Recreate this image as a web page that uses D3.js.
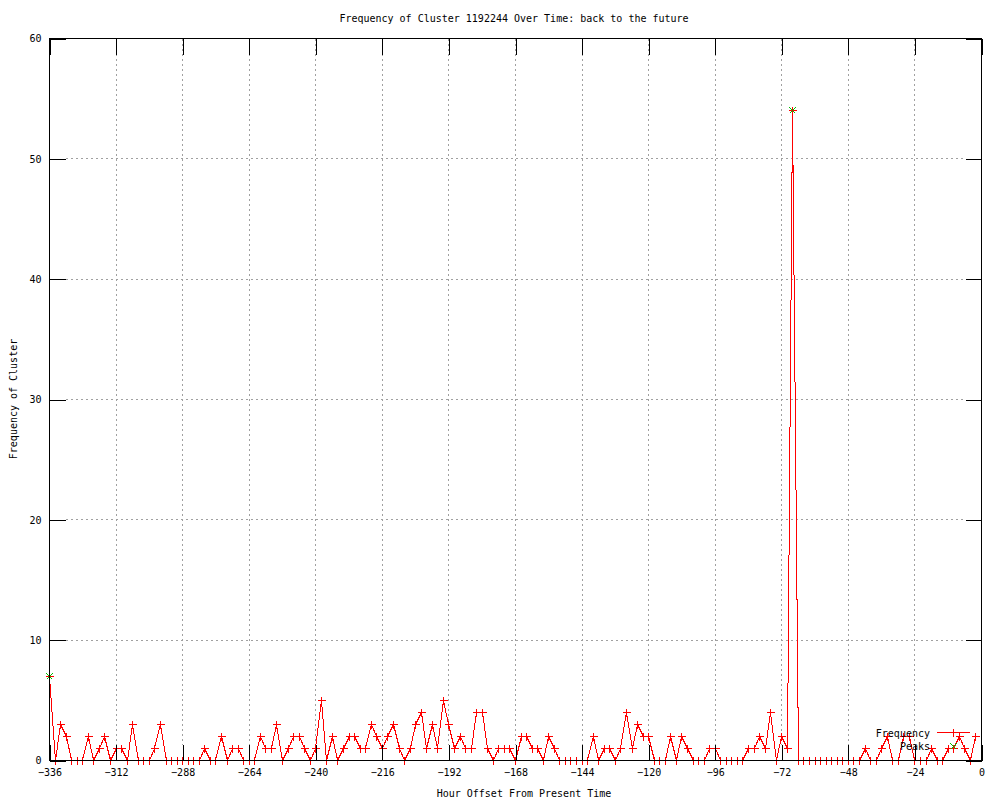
<!DOCTYPE html>
<meta charset="utf-8">
<title>Frequency of Cluster 1192244 Over Time</title>
<style type="text/css">
	body { margin: 0; background: #fff; }
	svg text { font-family: "DejaVu Sans Mono", monospace; font-size: 10px; fill: #000; }
</style>
<body>
<div id="chart"></div>
</body>
<script src="https://d3js.org/d3.v7.min.js"></script>
<script>

// hour offsets of each sample (every 2 hours)
var hours = [-336,-334,-332,-330,-328,-326,-324,-322,-320,-318,-316,-314,-312,-310,-308,-306,-304,-302,-300,-298,
	-296,-294,-292,-290,-288,-286,-284,-282,-280,-278,-276,-274,-272,-270,-268,-266,-264,-262,-260,-258,
	-256,-254,-252,-250,-248,-246,-244,-242,-240,-238,-236,-234,-232,-230,-228,-226,-224,-222,-220,-218,
	-216,-214,-212,-210,-208,-206,-204,-202,-200,-198,-196,-194,-192,-190,-188,-186,-184,-182,-180,-178,
	-176,-174,-172,-170,-168,-166,-164,-162,-160,-158,-156,-154,-152,-150,-148,-146,-144,-142,-140,-138,
	-136,-134,-132,-130,-128,-126,-124,-122,-120,-118,-116,-114,-112,-110,-108,-106,-104,-102,-100,-98,
	-96,-94,-92,-90,-88,-86,-84,-82,-80,-78,-76,-74,-72,-70,-68,-66,-64,-62,-60,-58,
	-56,-54,-52,-50,-48,-46,-44,-42,-40,-38,-36,-34,-32,-30,-28,-26,-24,-22,-20,-18,
	-16,-14,-12,-10,-8,-6,-4,-2];

// cluster frequency at each hour
var frequency = [7,0,3,2,0,0,0,2,0,1,2,0,1,1,0,3,0,0,0,1,
	3,0,0,0,0,0,0,0,1,0,0,2,0,1,1,0,0,0,2,1,
	1,3,0,1,2,2,1,0,1,5,0,2,0,1,2,2,1,1,3,2,
	1,2,3,1,0,1,3,4,1,3,1,5,3,1,2,1,1,4,4,1,
	0,1,1,1,0,2,2,1,1,0,2,1,0,0,0,0,0,0,2,0,
	1,1,0,1,4,1,3,2,2,0,0,0,2,0,2,1,0,0,0,1,
	1,0,0,0,0,0,1,1,2,1,4,0,2,1,54,0,0,0,0,0,
	0,0,0,0,0,0,0,1,0,0,1,2,0,0,2,2,0,0,0,1,
	0,0,1,1,2,1,0,2];

// detected peaks
var peakHours = [-336, -68];
var peakValues = [7, 54];

var xTicks = [-336,-312,-288,-264,-240,-216,-192,-168,-144,-120,-96,-72,-48,-24,0];
var yTicks = [0,10,20,30,40,50,60];

var margin = {top: 38, right: 19, bottom: 40, left: 49},
	width = 1000 - margin.left - margin.right,
	height = 800 - margin.top - margin.bottom;

var svg = d3.select("#chart").append("svg")
	.attr("width", 1000)
	.attr("height", 800);

var g = svg.append("g")
	.attr("transform", "translate(" + (margin.left + 0.5) + "," + (margin.top + 0.5) + ")");

var x = d3.scaleLinear().domain([-336, 0]).range([0, width]);
var y = d3.scaleLinear().domain([0, 60]).range([height, 0]);

var tickLen = 16;

// grid lines (dotted, skip the ones lying on the border)
g.selectAll(".xgrid")
	.data(xTicks.filter(function(d){ return d > -336 && d < 0; }))
	.enter().append("line")
	.attr("x1", function(d){ return Math.round(x(d)); })
	.attr("x2", function(d){ return Math.round(x(d)); })
	.attr("y1", 0).attr("y2", height - tickLen)
	.attr("stroke", "#a0a0a0")
	.attr("stroke-dasharray", "2,3")
	.attr("shape-rendering", "crispEdges");

g.selectAll(".ygrid")
	.data(yTicks.filter(function(d){ return d > 0 && d < 60; }))
	.enter().append("line")
	.attr("y1", function(d){ return Math.round(y(d)); })
	.attr("y2", function(d){ return Math.round(y(d)); })
	.attr("x1", tickLen).attr("x2", width - tickLen)
	.attr("stroke", "#a0a0a0")
	.attr("stroke-dasharray", "2,3")
	.attr("shape-rendering", "crispEdges");

// frequency line
var pts = hours.map(function(h, i){ return {h: h, v: frequency[i]}; });

g.append("path")
	.datum(pts)
	.attr("d", d3.line()
		.x(function(d){ return Math.round(x(d.h)); })
		.y(function(d){ return Math.round(y(d.v)); }))
	.attr("fill", "none")
	.attr("stroke", "#ff0000")
	.attr("stroke-width", 1)
	.attr("shape-rendering", "crispEdges");

// plus markers
var s = 4;
g.append("path")
	.attr("d", pts.map(function(d){
		var px = Math.round(x(d.h)), py = Math.round(y(d.v));
		return "M" + (px - s) + "," + py + "H" + (px + s) + "M" + px + "," + (py - s) + "V" + (py + s);
	}).join(""))
	.attr("stroke", "#ff0000")
	.attr("fill", "none")
	.attr("shape-rendering", "crispEdges");

// peaks as green crosses
var c = 3;
g.append("path")
	.attr("d", peakHours.map(function(h, i){
		var px = Math.round(x(h)), py = Math.round(y(peakValues[i]));
		return "M" + (px - c) + "," + (py - c) + "L" + (px + c) + "," + (py + c) +
			"M" + (px - c) + "," + (py + c) + "L" + (px + c) + "," + (py - c);
	}).join(""))
	.attr("stroke", "#00c000")
	.attr("fill", "none")
	.attr("shape-rendering", "crispEdges");

// axes: ticks inside, mirrored on top / right
var xAxisB = d3.axisBottom(x).tickValues(xTicks).tickSizeInner(-tickLen).tickSizeOuter(0).tickPadding(8);
var yAxisL = d3.axisLeft(y).tickValues(yTicks).tickSizeInner(-tickLen).tickSizeOuter(0).tickPadding(8);

var xa = g.append("g").attr("transform", "translate(0," + height + ")").call(xAxisB);
var ya = g.append("g").call(yAxisL);

g.append("g").call(d3.axisTop(x).tickValues(xTicks).tickSizeInner(-tickLen).tickSizeOuter(0).tickFormat(""));
g.append("g").attr("transform", "translate(" + width + ",0)")
	.call(d3.axisRight(y).tickValues(yTicks).tickSizeInner(-tickLen).tickSizeOuter(0).tickFormat(""));

svg.selectAll(".domain").remove();
svg.selectAll(".tick line").attr("stroke", "#000").attr("shape-rendering", "crispEdges");
xa.selectAll("text").attr("font-family", null).attr("font-size", null).text(function(d){ return d3.format("d")(d).replace("-", "\u2212"); });
ya.selectAll("text").attr("font-family", null).attr("font-size", null);
svg.selectAll(".tick text").style("font-family", '"DejaVu Sans Mono", monospace').style("font-size", "10px");

// border
g.append("rect")
	.attr("x", 0).attr("y", 0)
	.attr("width", width).attr("height", height)
	.attr("fill", "none")
	.attr("stroke", "#000")
	.attr("shape-rendering", "crispEdges");

// titles
svg.append("text")
	.attr("x", 514).attr("y", 22)
	.attr("text-anchor", "middle")
	.text("Frequency of Cluster 1192244 Over Time: back to the future");

svg.append("text")
	.attr("x", 524).attr("y", 797)
	.attr("text-anchor", "middle")
	.text("Hour Offset From Present Time");

svg.append("text")
	.attr("transform", "translate(17,399) rotate(-90)")
	.attr("text-anchor", "middle")
	.text("Frequency of Cluster");

// legend
var legend = svg.append("g");
legend.append("text").attr("x", 930).attr("y", 737).attr("text-anchor", "end").text("Frequency");
legend.append("line").attr("x1", 937).attr("x2", 970).attr("y1", 732.5).attr("y2", 732.5)
	.attr("stroke", "#ff0000").attr("shape-rendering", "crispEdges");
legend.append("path").attr("d", "M949.5,732.5H957.5M953.5,728.5V736.5")
	.attr("stroke", "#ff0000").attr("shape-rendering", "crispEdges");
legend.append("text").attr("x", 930).attr("y", 750).attr("text-anchor", "end").text("Peaks");
legend.append("path").attr("d", "M950.5,743.5L956.5,749.5M950.5,749.5L956.5,743.5")
	.attr("stroke", "#00c000").attr("shape-rendering", "crispEdges");

</script>
